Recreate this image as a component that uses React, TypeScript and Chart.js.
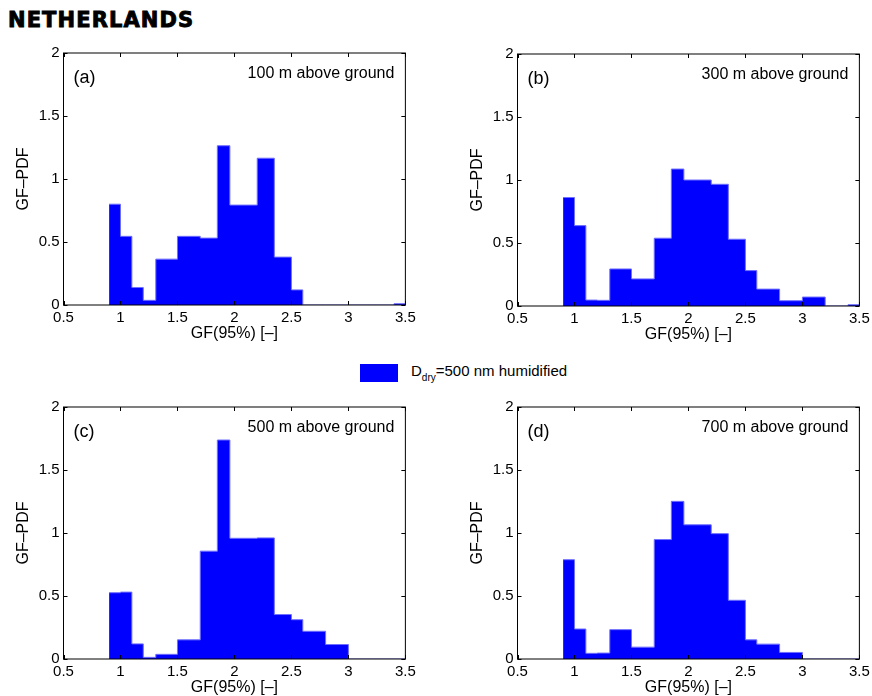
import React, { useEffect, useRef } from "react";
import { Chart, registerables } from "chart.js";

Chart.register(...registerables);

// ---- data ----
const figureTitle = "NETHERLANDS";
const xTitle = "GF(95%) [–]";
const yTitle = "GF–PDF";
const legendMain = "D";
const legendSub = "dry";
const legendRest = "=500 nm humidified";

// histogram bin edges (GF)
const binEdges = [0.9, 1.0, 1.1, 1.2, 1.31, 1.5, 1.7, 1.85, 1.96, 2.2, 2.35, 2.5, 2.6, 2.8, 3.0, 3.2, 3.4, 3.5];

// GF-PDF value of each bin (one less than edges)
const pdf100 = [0.8, 0.545, 0.139, 0.037, 0.364, 0.545, 0.531, 1.264, 0.793, 1.165, 0.38, 0.12, 0, 0, 0, 0, 0.01];
const pdf300 = [0.861, 0.638, 0.047, 0.045, 0.294, 0.215, 0.538, 1.087, 1.0, 0.966, 0.53, 0.281, 0.134, 0.042, 0.071, 0, 0.01];
const pdf500 = [0.526, 0.531, 0.12, 0.013, 0.037, 0.152, 0.856, 1.738, 0.958, 0.961, 0.353, 0.312, 0.22, 0.115, 0, 0, 0];
const pdf700 = [0.788, 0.238, 0.045, 0.047, 0.233, 0.094, 0.948, 1.251, 1.065, 0.995, 0.466, 0.152, 0.118, 0.052, 0, 0, 0];

const panelLetters = ["(a)", "(b)", "(c)", "(d)"];
const panelCaptions = ["100 m above ground", "300 m above ground", "500 m above ground", "700 m above ground"];

const xTickValues = [0.5, 1, 1.5, 2, 2.5, 3, 3.5];
const xTickLabels = ["0.5", "1", "1.5", "2", "2.5", "3", "3.5"];
const yTickValues = [0, 0.5, 1, 1.5, 2];
const yTickLabels = ["0", "0.5", "1", "1.5", "2"];

const FONT = "'Liberation Sans', Arial, Helvetica, sans-serif";
const BLUE = "#0000ff";

type PanelProps = { values: number[]; letter: string; caption: string; left: number; top: number };

const CW = 420;
const CH = 305;

function Panel({ values, letter, caption, left, top }: PanelProps) {
  const ref = useRef<HTMLCanvasElement | null>(null);

  useEffect(() => {
    if (!ref.current) return;
    const points = binEdges.map((x, i) => ({ x, y: values[Math.min(i, values.length - 1)] }));

    const framePlugin = {
      id: "frame" + letter,
      afterDraw(chart: any) {
        const { ctx, chartArea } = chart;
        const { left: l, right: r, top: t, bottom: b } = chartArea;
        const xs = chart.scales.x;
        const ys = chart.scales.y;
        ctx.save();
        ctx.strokeStyle = "#000";
        ctx.lineWidth = 1;
        ctx.strokeRect(l, t, r - l, b - t);
        ctx.beginPath();
        const tl = 4;
        xTickValues.forEach((v) => {
          const px = Math.round(xs.getPixelForValue(v)) + 0.5;
          ctx.moveTo(px, b);
          ctx.lineTo(px, b - tl);
          ctx.moveTo(px, t);
          ctx.lineTo(px, t + tl);
        });
        yTickValues.forEach((v) => {
          const py = Math.round(ys.getPixelForValue(v)) + 0.5;
          ctx.moveTo(l, py);
          ctx.lineTo(l + tl, py);
          ctx.moveTo(r, py);
          ctx.lineTo(r - tl, py);
        });
        ctx.stroke();
        ctx.fillStyle = "#000";
        ctx.textBaseline = "alphabetic";
        ctx.font = `18px ${FONT}`;
        ctx.textAlign = "left";
        ctx.fillText(letter, l + 10, t + 30);
        ctx.font = `16px ${FONT}`;
        ctx.textAlign = "right";
        ctx.fillText(caption, r - 11, t + 25);
        ctx.restore();
      },
    };

    const chart = new Chart(ref.current, {
      type: "line",
      data: {
        datasets: [
          {
            data: points,
            stepped: "before",
            fill: "origin",
            backgroundColor: BLUE,
            borderColor: "#6f6fff",
            borderWidth: 1,
            pointRadius: 0,
            pointHoverRadius: 0,
          } as any,
        ],
      },
      options: {
        animation: false,
        responsive: false,
        events: [],
        layout: { padding: { top: 9.5, right: 12, left: 0, bottom: 0 } },
        plugins: { legend: { display: false }, tooltip: { enabled: false } },
        scales: {
          x: {
            type: "linear",
            min: 0.5,
            max: 3.5,
            grid: { display: false, drawTicks: false },
            border: { display: false },
            afterBuildTicks: (s: any) => {
              s.ticks = xTickValues.map((v) => ({ value: v }));
            },
            afterFit: (s: any) => {
              s.height = 40;
            },
            ticks: {
              autoSkip: false,
              maxRotation: 0,
              padding: 4.2,
              color: "#000",
              font: { family: FONT, size: 15 },
              callback: (v: any) => {
                const i = xTickValues.indexOf(Number(v));
                return i >= 0 ? xTickLabels[i] : "";
              },
            },
            title: {
              display: true,
              text: xTitle,
              color: "#000",
              font: { family: FONT, size: 16 },
              padding: { top: 0, bottom: 1.5 },
            },
          },
          y: {
            type: "linear",
            min: 0,
            max: 2,
            grid: { display: false, drawTicks: false },
            border: { display: false },
            afterBuildTicks: (s: any) => {
              s.ticks = yTickValues.map((v) => ({ value: v }));
            },
            afterFit: (s: any) => {
              s.width = 63.5;
            },
            ticks: {
              autoSkip: false,
              padding: 4,
              color: "#000",
              font: { family: FONT, size: 15 },
              callback: (v: any) => {
                const i = yTickValues.indexOf(Number(v));
                return i >= 0 ? yTickLabels[i] : "";
              },
            },
            title: {
              display: true,
              text: yTitle,
              color: "#000",
              font: { family: FONT, size: 16 },
              padding: { top: 14.4, bottom: 0 },
            },
          },
        },
      } as any,
      plugins: [framePlugin],
    });
    return () => chart.destroy();
  }, [values, letter, caption]);

  return (
    <canvas
      ref={ref}
      width={CW}
      height={CH}
      style={{ position: "absolute", left, top, width: CW, height: CH }}
    />
  );
}

export default function App() {
  const series = [pdf100, pdf300, pdf500, pdf700];
  const positions = [
    { left: 0, top: 40 },
    { left: 454, top: 40.5 },
    { left: 0, top: 393.5 },
    { left: 454, top: 393.5 },
  ];
  return (
    <div
      style={{
        position: "fixed",
        left: 0,
        top: 0,
        width: 872,
        height: 696,
        overflow: "hidden",
        background: "#fff",
      }}
    >
      <div
        style={{
          position: "absolute",
          left: 8,
          top: 9.5,
          fontFamily: "'DejaVu Sans', sans-serif",
          fontWeight: 700,
          fontSize: 21,
          lineHeight: "21px",
          letterSpacing: 1.1,
          color: "#000",
          WebkitTextStroke: "0.9px #000",
          whiteSpace: "nowrap",
        }}
      >
        {figureTitle}
      </div>
      {series.map((vals, i) => (
        <Panel
          key={i}
          values={vals}
          letter={panelLetters[i]}
          caption={panelCaptions[i]}
          left={positions[i].left}
          top={positions[i].top}
        />
      ))}
      <div
        style={{
          position: "absolute",
          left: 360,
          top: 364,
          width: 38,
          height: 18,
          background: BLUE,
        }}
      />
      <div
        style={{
          position: "absolute",
          left: 411,
          top: 362,
          fontFamily: FONT,
          fontSize: 15,
          lineHeight: "18px",
          color: "#000",
          whiteSpace: "nowrap",
        }}
      >
        {legendMain}
        <span style={{ fontSize: 10, position: "relative", top: 5 }}>{legendSub}</span>
        {legendRest}
      </div>
    </div>
  );
}
